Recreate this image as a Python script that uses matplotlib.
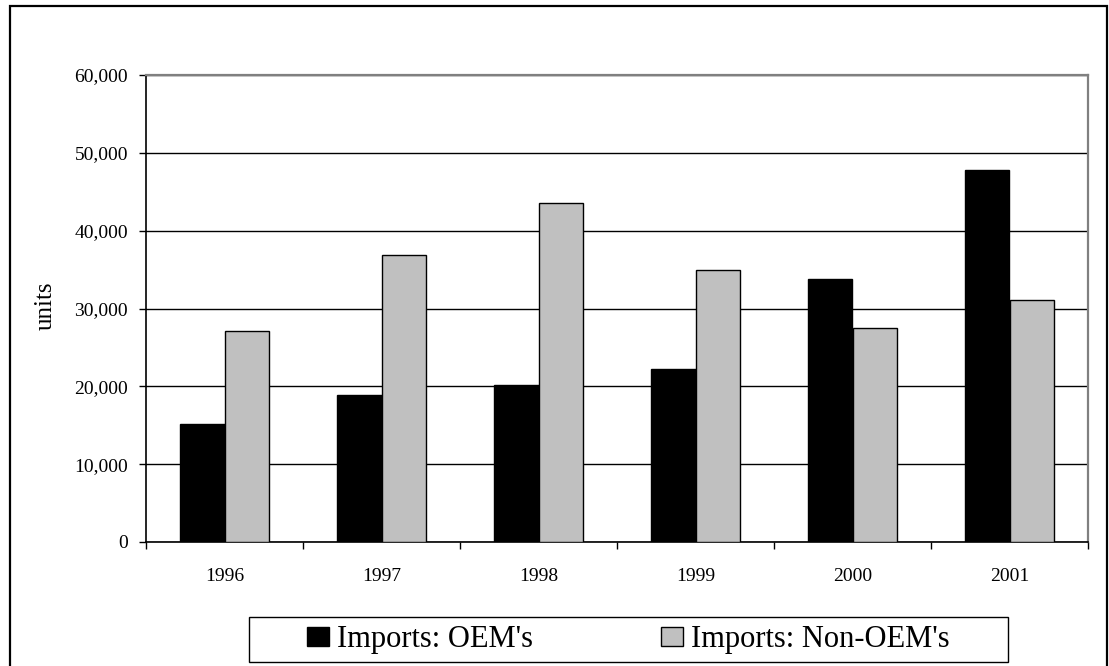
import numpy as np
import matplotlib.pyplot as plt
from matplotlib.patches import Rectangle
from matplotlib.ticker import FuncFormatter

plt.rcParams['font.family'] = ['Liberation Serif', 'DejaVu Serif']

# Import volumes by year (units)
years = ['1996', '1997', '1998', '1999', '2000', '2001']
oem = [15100, 18900, 20200, 22200, 33800, 47800]
non_oem = [27100, 36900, 43600, 35000, 27500, 31100]

W, H = 1109, 666
fig = plt.figure(figsize=(W / 100, H / 100), dpi=100)

# outer chart border (open at the bottom)
fig.add_artist(Rectangle((10 / W, -0.1), 1097 / W, 1.1 - 6 / H, transform=fig.transFigure,
                         fill=False, edgecolor='black', lw=1.6, clip_on=False))

ax = fig.add_axes([146 / W, 1 - 542 / H, 942 / W, 467 / H])

x = np.arange(len(years))
bw = 2 / 7
ax.bar(x + 0.5 - bw / 2, oem, bw, color='black', edgecolor='black', lw=1, zorder=3,
       label="Imports: OEM's")
ax.bar(x + 0.5 + bw / 2, non_oem, bw, color='#c0c0c0', edgecolor='black', lw=1, zorder=3,
       label="Imports: Non-OEM's")

ax.set_xlim(0, 6)
ax.set_ylim(0, 60000)
ax.set_yticks(range(0, 60001, 10000))
ax.yaxis.set_major_formatter(FuncFormatter(lambda v, p: f'{int(v):,}'))
ax.yaxis.grid(True, color='black', lw=1)
ax.set_axisbelow(True)

# category boundary ticks, year labels in the middle
ax.set_xticks(np.arange(0, 7))
ax.set_xticklabels([])
ax.set_xticks(x + 0.5, minor=True)
ax.set_xticklabels(years, minor=True)
ax.tick_params(axis='x', which='major', direction='out', length=5, width=1, color='black')
ax.tick_params(axis='x', which='minor', length=0, pad=19, labelsize=14)
ax.tick_params(axis='y', direction='out', length=5, width=1, pad=8, labelsize=14)

for s in ['left', 'bottom']:
    ax.spines[s].set_color('black')
    ax.spines[s].set_linewidth(1.2)
for s in ['top', 'right']:
    ax.spines[s].set_color('#808080')
    ax.spines[s].set_linewidth(1.6)

fig.text(46 / W, 1 - 306 / H, 'units', rotation=90, ha='center', va='center', fontsize=18)

# legend box along the bottom
fig.add_artist(Rectangle((249 / W, 1 - 662 / H), 759 / W, 45 / H, transform=fig.transFigure,
                         fill=False, edgecolor='black', lw=1))
fig.legend(loc='center', bbox_to_anchor=(628.5 / W, 1 - 639.5 / H), ncol=2, frameon=False,
           fontsize=22, handlelength=0.72, handleheight=0.6, handletextpad=0.25,
           columnspacing=4.2, borderpad=0)

plt.savefig('out.png', dpi=100)
